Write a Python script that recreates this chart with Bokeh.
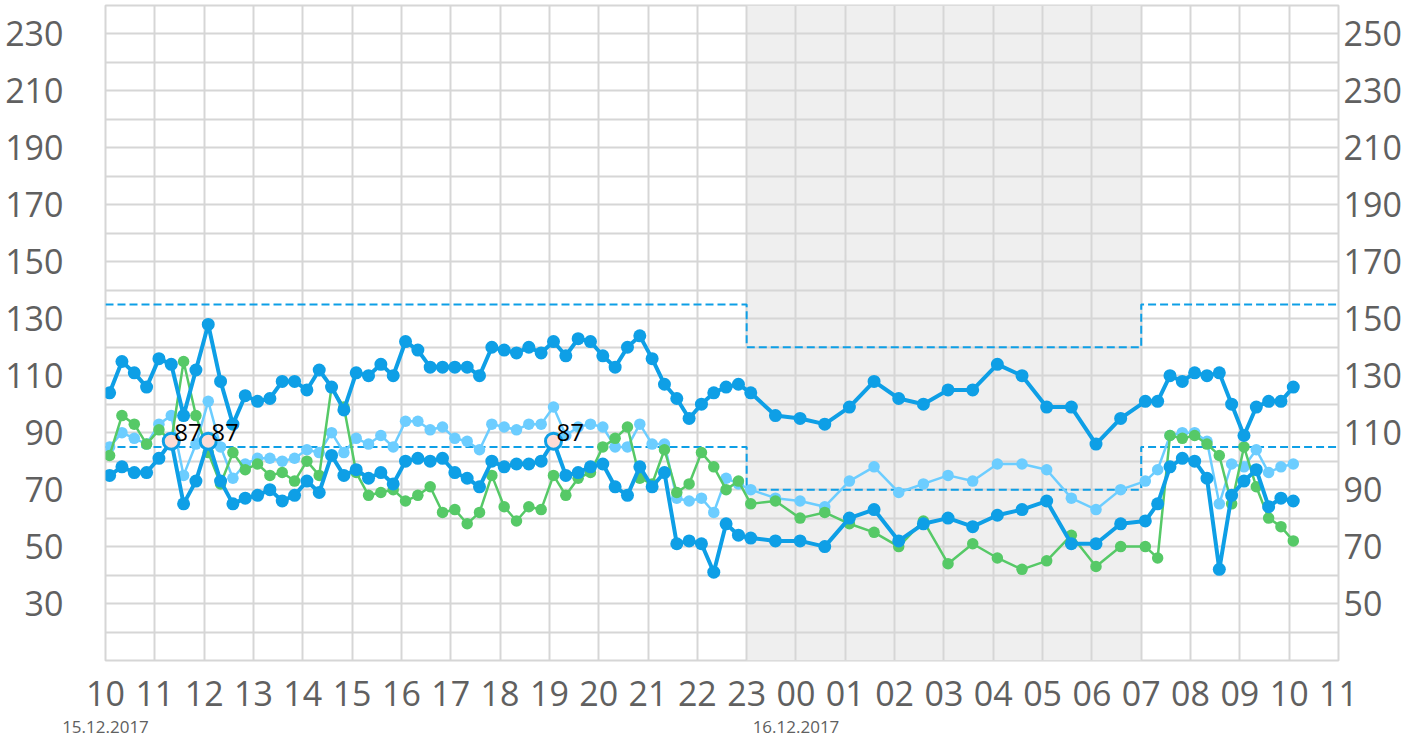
import pandas as pd
from bokeh.plotting import figure
from bokeh.models import (Range1d, LinearAxis, DatetimeAxis, FixedTicker,
                          DatetimeTickFormatter, BoxAnnotation, ColumnDataSource)
from bokeh.core.properties import value
from bokeh.embed import file_html
from bokeh.resources import INLINE

# ---- sampling times (15 min by day, 30 min by night) ----
day_times = pd.date_range("2017-12-15 10:05", "2017-12-15 23:05", freq="15min")
night_times = pd.date_range("2017-12-15 23:35", "2017-12-16 06:35", freq="30min")
morning_times = pd.date_range("2017-12-16 07:05", "2017-12-16 10:05", freq="15min")
times = day_times.append(night_times).append(morning_times)

# ---- series values ----
upper_day = [104, 115, 111, 106, 116, 114, 96, 112, 128, 108,
             93, 103, 101, 102, 108, 108, 105, 112, 106, 98,
             111, 110, 114, 110, 122, 119, 113, 113, 113, 113,
             110, 120, 119, 118, 120, 118, 122, 117, 123, 122,
             117, 113, 120, 124, 116, 107, 102, 95, 100, 104,
             106, 107, 104]
upper_night = [96, 95, 93, 99, 108, 102, 100, 105, 105, 114, 110, 99, 99, 86, 95]
upper_morning = [101, 101, 110, 108, 111, 110, 111, 100, 89, 99, 101, 101, 106]

lower_day = [75, 78, 76, 76, 81, 87, 65, 73, 87, 73,
             65, 67, 68, 70, 66, 68, 73, 69, 82, 75,
             77, 74, 76, 72, 80, 81, 80, 81, 76, 74,
             71, 80, 78, 79, 79, 80, 87, 75, 76, 78,
             79, 71, 68, 78, 71, 76, 51, 52, 51, 41,
             58, 54, 53]
lower_night = [52, 52, 50, 60, 63, 52, 58, 60, 57, 61, 63, 66, 51, 51, 58]
lower_morning = [59, 65, 78, 81, 80, 74, 42, 68, 73, 77, 64, 67, 66]

light_day = [85, 90, 88, 86, 93, 96, 75, 86, 101, 85,
             74, 79, 81, 81, 80, 81, 84, 83, 90, 83,
             88, 86, 89, 85, 94, 94, 91, 92, 88, 87,
             84, 93, 92, 91, 93, 93, 99, 89, 92, 93,
             92, 85, 85, 93, 86, 86, 67, 66, 67, 62,
             74, 72, 70]
light_night = [67, 66, 64, 73, 78, 69, 72, 75, 73, 79, 79, 77, 67, 63, 70]
light_morning = [73, 77, 89, 90, 90, 87, 65, 79, 78, 84, 76, 78, 79]

green_day = [82, 96, 93, 86, 91, 87, 115, 96, 83, 72,
             83, 77, 79, 75, 76, 73, 80, 75, 106, 99,
             76, 68, 69, 70, 66, 68, 71, 62, 63, 58,
             62, 75, 64, 59, 64, 63, 75, 68, 74, 76,
             85, 88, 92, 74, 72, 84, 69, 72, 83, 78,
             70, 73, 65]
green_night = [66, 60, 62, 58, 55, 50, 59, 44, 51, 46, 42, 45, 54, 43, 50]
green_morning = [50, 46, 89, 88, 89, 86, 82, 65, 85, 71, 60, 57, 52]

upper = upper_day + upper_night + upper_morning
lower = lower_day + lower_night + lower_morning
light = light_day + light_night + light_morning
green = green_day + green_night + green_morning

# highlighted readings
hl_times = pd.to_datetime(["2017-12-15 11:20", "2017-12-15 12:05", "2017-12-15 19:05"])
hl_values = [87, 87, 87]
hl_labels = ["87", "87", "87"]

# target band (day / night)
band_times = pd.to_datetime(["2017-12-15 10:00", "2017-12-15 23:00", "2017-12-15 23:00",
                             "2017-12-16 07:00", "2017-12-16 07:00", "2017-12-16 11:00"])
band_high = [135, 135, 120, 120, 135, 135]
band_low = [85, 85, 70, 70, 85, 85]
night_start = pd.Timestamp("2017-12-15 23:00")
night_end = pd.Timestamp("2017-12-16 07:00")

x_start = pd.Timestamp("2017-12-15 10:00")
x_end = pd.Timestamp("2017-12-16 11:00")
hour_ticks = pd.date_range(x_start, x_end, freq="1h")
date_ticks = pd.to_datetime(["2017-12-15 10:00", "2017-12-16 00:00"])
left_ticks = list(range(30, 231, 20))
right_ticks = list(range(50, 251, 20))
grid_ticks = list(range(10, 241, 10))
y_lo, y_hi = 10, 240

DARK = "#0e9fe6"
LIGHT = "#6ccdff"
GREEN = "#56c967"
GRID = "#d6d6d6"
LABEL = "#606060"
FONT = "Open Sans"

def ms(ts):
    return [t.value / 1e6 for t in ts]

p = figure(width=1408, height=738, x_axis_type="datetime",
           x_range=Range1d(x_start, x_end), y_range=Range1d(y_lo, y_hi),
           output_backend="svg", toolbar_location=None,
           min_border_left=105, min_border_right=70, min_border_top=5,
           min_border_bottom=78, background_fill_color="white")
p.outline_line_color = GRID
p.outline_line_width = 2

# grids
p.xgrid.ticker = FixedTicker(ticks=ms(hour_ticks))
p.ygrid.ticker = FixedTicker(ticks=grid_ticks)
for g in (p.xgrid[0], p.ygrid[0]):
    g.grid_line_color = GRID
    g.grid_line_width = 2

# night shading
p.add_layout(BoxAnnotation(left=night_start, right=night_end, fill_color="#efefef",
                           fill_alpha=1.0, line_color=None, level="image"))

# axes styling
def style_axis(ax, size, standoff):
    ax.axis_line_color = None
    ax.major_tick_line_color = None
    ax.minor_tick_line_color = None
    ax.major_tick_out = 0
    ax.major_tick_in = 0
    ax.major_label_text_font = FONT
    ax.major_label_text_font_size = size
    ax.major_label_text_color = LABEL
    ax.major_label_standoff = standoff

xa = p.xaxis[0]
xa.ticker = FixedTicker(ticks=ms(hour_ticks))
fmt_h = dict((k, "%H") for k in ["microseconds", "milliseconds", "seconds", "minsec",
                                  "minutes", "hourmin", "hours", "days", "months", "years"])
xa.formatter = DatetimeTickFormatter(**fmt_h, context=None)
style_axis(xa, "34px", 20)

ya = p.yaxis[0]
ya.ticker = FixedTicker(ticks=left_ticks)
style_axis(ya, "34px", 42)

p.extra_y_ranges = {"right": Range1d(y_lo + 20, y_hi + 20)}
ra = LinearAxis(y_range_name="right", ticker=FixedTicker(ticks=right_ticks))
style_axis(ra, "34px", 5)
p.add_layout(ra, "right")

fmt_d = dict((k, "%d.%m.%Y") for k in ["microseconds", "milliseconds", "seconds", "minsec",
                                        "minutes", "hourmin", "hours", "days", "months", "years"])
da = DatetimeAxis(ticker=FixedTicker(ticks=ms(date_ticks)),
                  formatter=DatetimeTickFormatter(**fmt_d, context=None))
style_axis(da, "17px", 12)
p.add_layout(da, "below")

# target band
p.line(band_times, band_high, line_color=DARK, line_width=2, line_dash="8 4")
p.line(band_times, band_low, line_color=DARK, line_width=2, line_dash="8 4")

src = ColumnDataSource(dict(t=times, upper=upper, lower=lower, light=light, green=green))

p.line("t", "light", source=src, line_color=LIGHT, line_width=2.5)
p.scatter("t", "light", source=src, size=11.5, fill_color=LIGHT, line_color=None)
p.line("t", "green", source=src, line_color=GREEN, line_width=2.5)
p.scatter("t", "green", source=src, size=11.5, fill_color=GREEN, line_color=None)
p.line("t", "lower", source=src, line_color=DARK, line_width=4)
p.scatter("t", "lower", source=src, size=13, fill_color=DARK, line_color=None)
p.line("t", "upper", source=src, line_color=DARK, line_width=4)
p.scatter("t", "upper", source=src, size=13, fill_color=DARK, line_color=None)

# highlighted readings
p.scatter(hl_times, hl_values, size=16, fill_color="#fcdcd6", line_color=DARK, line_width=3)
p.text(hl_times, hl_values, text=hl_labels, x_offset=3, y_offset=-9,
       text_font=value(FONT), text_font_size="24px", text_color="black",
       text_baseline="alphabetic", text_align="left")

open("out.html", "w").write(file_html(p, INLINE))
